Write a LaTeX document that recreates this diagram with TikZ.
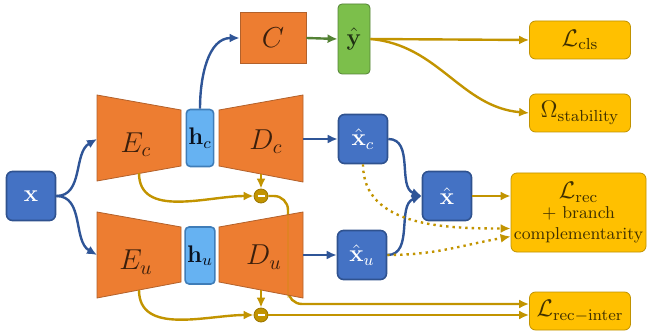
\documentclass[tikz,border=0pt]{standalone}
\usepackage{amsmath}
\usepackage{amssymb}
\usepackage{tikz}
\usetikzlibrary{calc}
\usetikzlibrary{positioning}
\usetikzlibrary{arrows.meta}

\definecolor{orangeF}{HTML}{ED7D31}
\definecolor{orangeD}{HTML}{B2612B}
\definecolor{blueF}{HTML}{4472C4}
\definecolor{blueD}{HTML}{2F528F}
\definecolor{blueL}{HTML}{2F5597}
\definecolor{lblueF}{HTML}{66B2F2}
\definecolor{lblueD}{HTML}{3F7DB8}
\definecolor{greenF}{HTML}{7CBF4B}
\definecolor{greenD}{HTML}{548235}
\definecolor{goldF}{HTML}{FFC000}
\definecolor{goldD}{HTML}{C09200}
\definecolor{goldL}{HTML}{C29400}

\tikzset{
  coder/.style={fill=orangeF, draw=orangeD, thin},
  codetxt/.style={text=black!75!orangeF, font=\Large},
  bluebox/.style={rectangle, rounded corners=3pt, fill=blueF, draw=blueD, thick, text=white, font=\large, minimum width=24.5pt, minimum height=24.5pt},
  hbox/.style={rectangle, rounded corners=2pt, fill=lblueF, draw=lblueD, thick, text=black!80!blueD, font=\large, minimum width=13pt, minimum height=28.5pt, inner sep=1pt},
  lossbox/.style={rectangle, rounded corners=3pt, fill=goldF, draw=goldD, thin, text=black!75!goldF, font=\large, minimum width=50.5pt, minimum height=19pt},
  minusnode/.style={circle, fill=goldL, draw=goldD!80!black, thin, inner sep=0pt, minimum size=7pt},
  bluearrow/.style={very thick, ->, draw=blueL},
  goldarrow/.style={very thick, ->, draw=goldL},
}

\begin{document}
\begin{tikzpicture}[x=0.5pt, y=-0.5pt, >={Latex[length=5pt, width=4.5pt]}]
			\useasboundingbox (0,0) rectangle (647,331);
			
			\node[minusnode] (m1) at (261,196) {\color{white}\rule{3.5pt}{1.2pt}};
			\node[minusnode] (m2) at (261,315) {\color{white}\rule{3.5pt}{1.2pt}};
			\node[lossbox] (Linter) at (580,311) {$\mathcal{L}_{\mathrm{rec-inter}}$};
			\coordinate (i1) at ($(Linter.west)+(0,-7)$);
			\coordinate (bend) at (288,304);
			\draw[goldarrow, rounded corners=7pt] (m1.east) -| (bend) -- (i1);
			
			% encoders and decoders
			\draw[coder] (97,95) -- (181,110) -- (181,166) -- (97,181) -- cycle;
			\draw[coder] (219,110) -- (303,95) -- (303,182) -- (219,166) -- cycle;
			\draw[coder] (97,212) -- (181,227) -- (181,282) -- (97,298) -- cycle;
			\draw[coder] (219,227) -- (303,212) -- (303,298) -- (219,282) -- cycle;
			% seen through D_u
			\draw[very thick, draw=goldL, draw opacity=0.25] (bend |- 0,212) -- (bend |- 0,298);
			
			\node[codetxt] (Ec) at (136,145) {$E_c$};
			\node[codetxt] (Dc) at (266,142) {$D_c$};
			\node[codetxt] (Eu) at (136,262) {$E_u$};
			\node[codetxt] (Du) at (264,257) {$D_u$};
			
			\coordinate (Ec-in) at (97,139);
			\coordinate (Eu-in) at (97,255);
			\coordinate (Ec-out) at (139,173);
			\coordinate (Eu-out) at (139,290);
			\coordinate (Dc-out) at (303,139);
			\coordinate (Du-out) at (303,255);
			\coordinate (Dc-bot) at (261,174);
			\coordinate (Du-bot) at (261,290);
			
			\node[bluebox] (x) at (31,196) {$\mathbf{x}$};
			\node[hbox] (hc) at (200,138) {$\mathbf{h}_c$};
			\node[hbox] (hu) at (200,255.5) {$\mathbf{h}_u$};
			\node[rectangle, fill=orangeF, draw=orangeD, thin, text=black!75!orangeF, font=\Large, minimum width=33pt, minimum height=25.5pt] (C) at (273,38) {$C$};
			\node[rectangle, rounded corners=2pt, fill=greenF, draw=greenD, thin, text=black!75!greenF, font=\large, minimum width=16pt, minimum height=35pt, inner sep=1pt] (yhat) at (354,39) {$\hat{\mathbf{y}}$};
			
			\node[bluebox] (xc) at (363,139) {$\hat{\mathbf{x}}_c$};
			\node[bluebox] (xu) at (362,255) {$\hat{\mathbf{x}}_u$};
			\node[bluebox] (xh) at (447,196) {$\hat{\mathbf{x}}$};
			
			\node[lossbox] (Lcls) at (580,40) {$\mathcal{L}_{\mathrm{cls}}$};
			\node[lossbox] (Lstab) at (580,113) {$\Omega_{\mathrm{stability}}$};
			\node[lossbox, minimum width=67.5pt, minimum height=39.5pt, align=center, font=\fontsize{8.6}{10.2}\selectfont, inner sep=1pt] (Lrec) at (578.5,212.5) {{\large $\mathcal{L}_{\mathrm{rec}}$}\\ $+$ branch\\ complementarity};
			
			\coordinate (r1) at ($(Lrec.west)+(0,16)$);
			\coordinate (r2) at ($(Lrec.west)+(0,24)$);
			
			\draw[bluearrow] (x.east) to[out=0, in=210] (Ec-in);
			\draw[bluearrow] (x.east) to[out=0, in=150] (Eu-in);
			\draw[bluearrow] (hc.north) to[out=90, in=180] (C.west);
			\draw[very thick, ->, draw=greenD] (C.east) -- (yhat.west);
			\draw[bluearrow] (Dc-out) -- (xc.west);
			\draw[bluearrow] (Du-out) -- (xu.west);
			\draw[bluearrow] (xc.east) to[out=0, in=160] (xh.west);
			\draw[bluearrow] (xu.east) to[out=0, in=200] (xh.west);
			
			\draw[goldarrow] (yhat.east) -- (Lcls.west);
			\draw[goldarrow] (yhat.east) to[out=-5, in=175] (Lstab.west);
			\draw[goldarrow] (xh.east) -- (Lrec.west |- xh);
			\draw[goldarrow, dotted] (xc.south) to[out=-90, in=180] (r1);
			\draw[goldarrow, dotted] (xu.east) to[out=0, in=190] (r2);
			
			\draw[goldarrow] (Ec-out) to[out=-90, in=180] (m1.west);
			\draw[goldarrow] (Dc-bot) -- (m1.north);
			\draw[goldarrow] (Eu-out) to[out=-90, in=180] (m2.west);
			\draw[goldarrow] (Du-bot) -- (m2.north);
			\draw[goldarrow] (m2.east) -- (m2.east -| Linter.west);
		\end{tikzpicture}
\end{document}
